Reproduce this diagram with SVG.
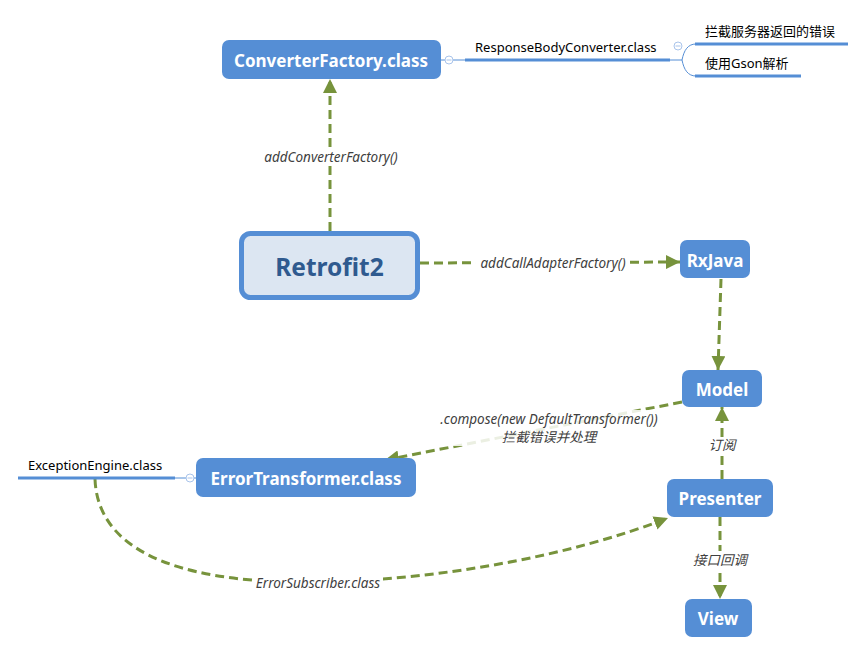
<svg xmlns="http://www.w3.org/2000/svg" width="865" height="662" viewBox="0 0 865 662">
<defs>
<style>
.node{fill:#558ED5}
.nt{font-family:"Noto Sans","Noto Sans CJK SC",sans-serif;font-weight:bold;font-size:17px;fill:#fff;text-anchor:middle;dominant-baseline:central}
.conn{fill:none;stroke:#77933C;stroke-width:3;stroke-dasharray:9 5}
.lbl{font-family:"Noto Sans","Noto Sans CJK SC",sans-serif;font-style:italic;font-size:13.5px;fill:#404040;text-anchor:middle;dominant-baseline:central}
.lb{fill:#fff}
.br{fill:none;stroke:#558ED5;stroke-width:3}
.thin{fill:none;stroke:#558ED5;stroke-width:1}
.bt{font-family:"Noto Sans","Noto Sans CJK SC",sans-serif;font-size:13px;fill:#000}
.col{fill:#fff;stroke:#A9C4EB;stroke-width:1}
.colm{stroke:#A9C4EB;stroke-width:1}
</style>
<marker id="ah" viewBox="0 0 10 10" refX="10" refY="5" markerWidth="14" markerHeight="14" markerUnits="userSpaceOnUse" orient="auto">
<path d="M0,0 L10,5 L0,10 z" fill="#77933C"/>
</marker>
</defs>
<rect width="865" height="662" fill="#fff"/>

<g id="connectors">
<path class="conn" d="M330,231 L330,79" marker-end="url(#ah)"/>
<rect class="lb" x="258" y="148" width="146" height="18"/>
<text class="lbl" x="331" y="157">addConverterFactory()</text>

<path class="conn" d="M420,263 L680,262" marker-end="url(#ah)"/>
<rect class="lb" x="476" y="254" width="154" height="18"/>
<text class="lbl" x="553" y="263">addCallAdapterFactory()</text>

<path class="conn" d="M721,279 L718,370" marker-end="url(#ah)"/>

<path class="conn" d="M682,402 L385,460" marker-end="url(#ah)"/>
<rect class="lb" x="434" y="410" width="230" height="36" opacity="0.85"/>
<text class="lbl" x="549" y="419">.compose(new DefaultTransformer())</text>
<text class="lbl" x="549" y="437">拦截错误并处理</text>

<path class="conn" d="M722,479 L722,407" marker-end="url(#ah)"/>
<rect class="lb" x="704" y="437" width="36" height="17"/>
<text class="lbl" x="722" y="445">订阅</text>

<path class="conn" d="M720,517 L720,599" marker-end="url(#ah)"/>
<rect class="lb" x="691" y="551" width="58" height="17"/>
<text class="lbl" x="720" y="560">接口回调</text>

<path class="conn" d="M95,479 C98,560 200,584 318,582 C440,580 570,556 668,518" marker-end="url(#ah)"/>
<rect class="lb" x="253" y="574" width="130" height="18"/>
<text class="lbl" x="318" y="583">ErrorSubscriber.class</text>
</g>

<g id="converterFactory">
<rect class="node" x="222" y="40" width="219" height="39" rx="7"/>
<text class="nt" x="331" y="60">ConverterFactory.class</text>
</g>

<g id="responseBodyConverter">
<line class="thin" x1="441" y1="60" x2="465" y2="60"/>
<circle class="col" cx="449" cy="60" r="4"/>
<line class="colm" x1="446.5" y1="60" x2="451.5" y2="60"/>
<line class="br" x1="465" y1="60" x2="670" y2="60"/>
<line class="thin" x1="670" y1="60" x2="682" y2="60"/>
<text class="bt" x="475" y="52">ResponseBodyConverter.class</text>
<circle class="col" cx="678" cy="46" r="4"/>
<line class="colm" x1="675.5" y1="46" x2="680.5" y2="46"/>
</g>

<g id="branch1">
<path class="thin" d="M682,60 C684,50 688,44 696,44"/>
<line class="br" x1="695" y1="44" x2="848" y2="44"/>
<text class="bt" x="705" y="36">拦截服务器返回的错误</text>
</g>

<g id="branch2">
<path class="thin" d="M682,60 C684,70 688,76 696,76"/>
<line class="br" x1="695" y1="76" x2="801" y2="76"/>
<text class="bt" x="705" y="68">使用Gson解析</text>
</g>

<g id="retrofit2">
<rect x="241.5" y="233.5" width="176" height="64" rx="9" fill="#DCE6F2" stroke="#558ED5" stroke-width="5"/>
<text x="329.5" y="266" font-family="'Noto Sans','Noto Sans CJK SC',sans-serif" font-weight="bold" font-size="24.5" fill="#2F5A8F" text-anchor="middle" dominant-baseline="central">Retrofit2</text>
</g>

<g id="rxjava">
<rect class="node" x="680" y="240" width="70" height="38" rx="7"/>
<text class="nt" x="715" y="260">RxJava</text>
</g>

<g id="model">
<rect class="node" x="682" y="370" width="80" height="37" rx="7"/>
<text class="nt" x="722" y="389">Model</text>
</g>

<g id="presenter">
<rect class="node" x="667" y="479" width="106" height="38" rx="7"/>
<text class="nt" x="720" y="498">Presenter</text>
</g>

<g id="view">
<rect class="node" x="685" y="599" width="67" height="38" rx="7"/>
<text class="nt" x="718" y="618">View</text>
</g>

<g id="errorTransformer">
<rect class="node" x="196" y="458" width="220" height="39" rx="7"/>
<text class="nt" x="306" y="478">ErrorTransformer.class</text>
</g>

<g id="exceptionEngine">
<line class="br" x1="18" y1="478" x2="175" y2="478"/>
<line class="thin" x1="175" y1="478" x2="196" y2="478"/>
<circle class="col" cx="190" cy="478" r="4"/>
<line class="colm" x1="187.5" y1="478" x2="192.5" y2="478"/>
<text class="bt" x="28" y="470">ExceptionEngine.class</text>
</g>
</svg>
